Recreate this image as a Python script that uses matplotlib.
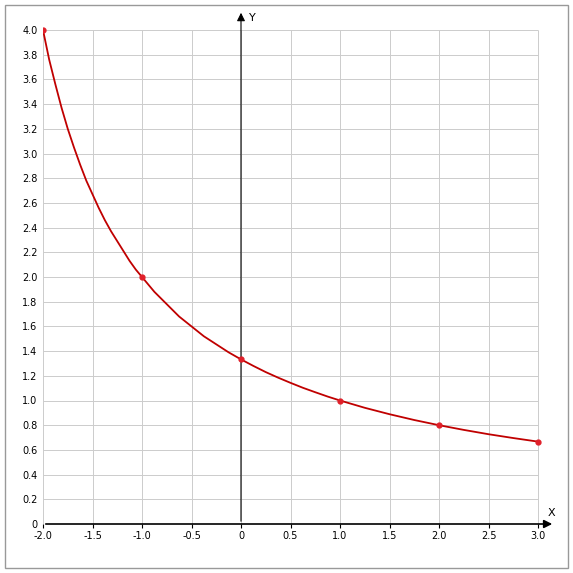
import matplotlib.pyplot as plt
from matplotlib.patches import Rectangle

# points marked on the curve
mark_x = [-2, -1, 0, 1, 2, 3]
mark_y = [4.0, 2.0, 1.333, 1.0, 0.8, 0.667]

# curve values
curve_x = [-2, -1.9375, -1.875, -1.8125, -1.75, -1.6875, -1.625, -1.5625, -1.5, -1.4375,
           -1.375, -1.3125, -1.25, -1.1875, -1.125, -1.0625, -1, -0.875, -0.75, -0.625,
           -0.5, -0.375, -0.25, -0.125, 0, 0.125, 0.25, 0.375, 0.5, 0.625, 0.75, 0.875,
           1, 1.25, 1.5, 1.75, 2, 2.25, 2.5, 2.75, 3]
curve_y = [4.0, 3.76, 3.56, 3.37, 3.2, 3.05, 2.91, 2.78, 2.67, 2.56,
           2.46, 2.37, 2.29, 2.21, 2.13, 2.06, 2.0, 1.88, 1.78, 1.68,
           1.6, 1.52, 1.455, 1.39, 1.333, 1.28, 1.23, 1.185, 1.143, 1.103, 1.067, 1.032,
           1.0, 0.941, 0.889, 0.842, 0.8, 0.762, 0.727, 0.696, 0.667]

xticks = [-2.0, -1.5, -1.0, -0.5, 0, 0.5, 1.0, 1.5, 2.0, 2.5, 3.0]
xlabels = ['-2.0', '-1.5', '-1.0', '-0.5', '0', '0.5', '1.0', '1.5', '2.0', '2.5', '3.0']
yticks = [i * 0.2 for i in range(21)]
ylabels = ['0'] + ['%.1f' % v for v in yticks[1:]]

fig = plt.figure(figsize=(5.73, 5.73), dpi=100)
fig.patches.append(Rectangle((0.008, 0.008), 0.984, 0.984, transform=fig.transFigure,
                             fill=False, edgecolor='#999999', linewidth=1))
W, H = 573, 573
ax = fig.add_axes([43 / W, (H - 524) / H, (555 - 43) / W, (524 - 10) / H])
ax.set_xlim(-2, 3 + 17 / 99)
ax.set_ylim(0, 4 + 20 / 123.5)
for s in ax.spines.values():
    s.set_visible(False)

ax.hlines(yticks[1:], -2, 3, color='#cccccc', linewidth=0.7, zorder=0)
ax.vlines(xticks, 0, 4, color='#cccccc', linewidth=0.7, zorder=0)

ax.annotate('', xy=(3 + 17 / 99, 0), xytext=(-2, 0),
            arrowprops=dict(arrowstyle='-|>', color='black', lw=1.2, mutation_scale=12))
ax.annotate('', xy=(0, 4 + 20 / 123.5), xytext=(0, 0),
            arrowprops=dict(arrowstyle='-|>', color='black', lw=0.8, mutation_scale=12))
ax.text(3.1, 0.05, 'X', fontsize=8, ha='left', va='bottom')
ax.text(0.08, 4.1, 'Y', fontsize=8, ha='left', va='center')

ax.plot(curve_x, curve_y, color='#c00000', linewidth=1.3, zorder=3)
ax.plot(mark_x, mark_y, 'o', color='#e0202a', markersize=3.5, zorder=4)

ax.set_xticks(xticks)
ax.set_xticklabels(xlabels, fontsize=7)
ax.set_yticks(yticks)
ax.set_yticklabels(ylabels, fontsize=7)
ax.tick_params(axis='x', length=3, pad=2)
ax.tick_params(axis='y', length=0, pad=4)

fig.savefig('out.png', dpi=100)
